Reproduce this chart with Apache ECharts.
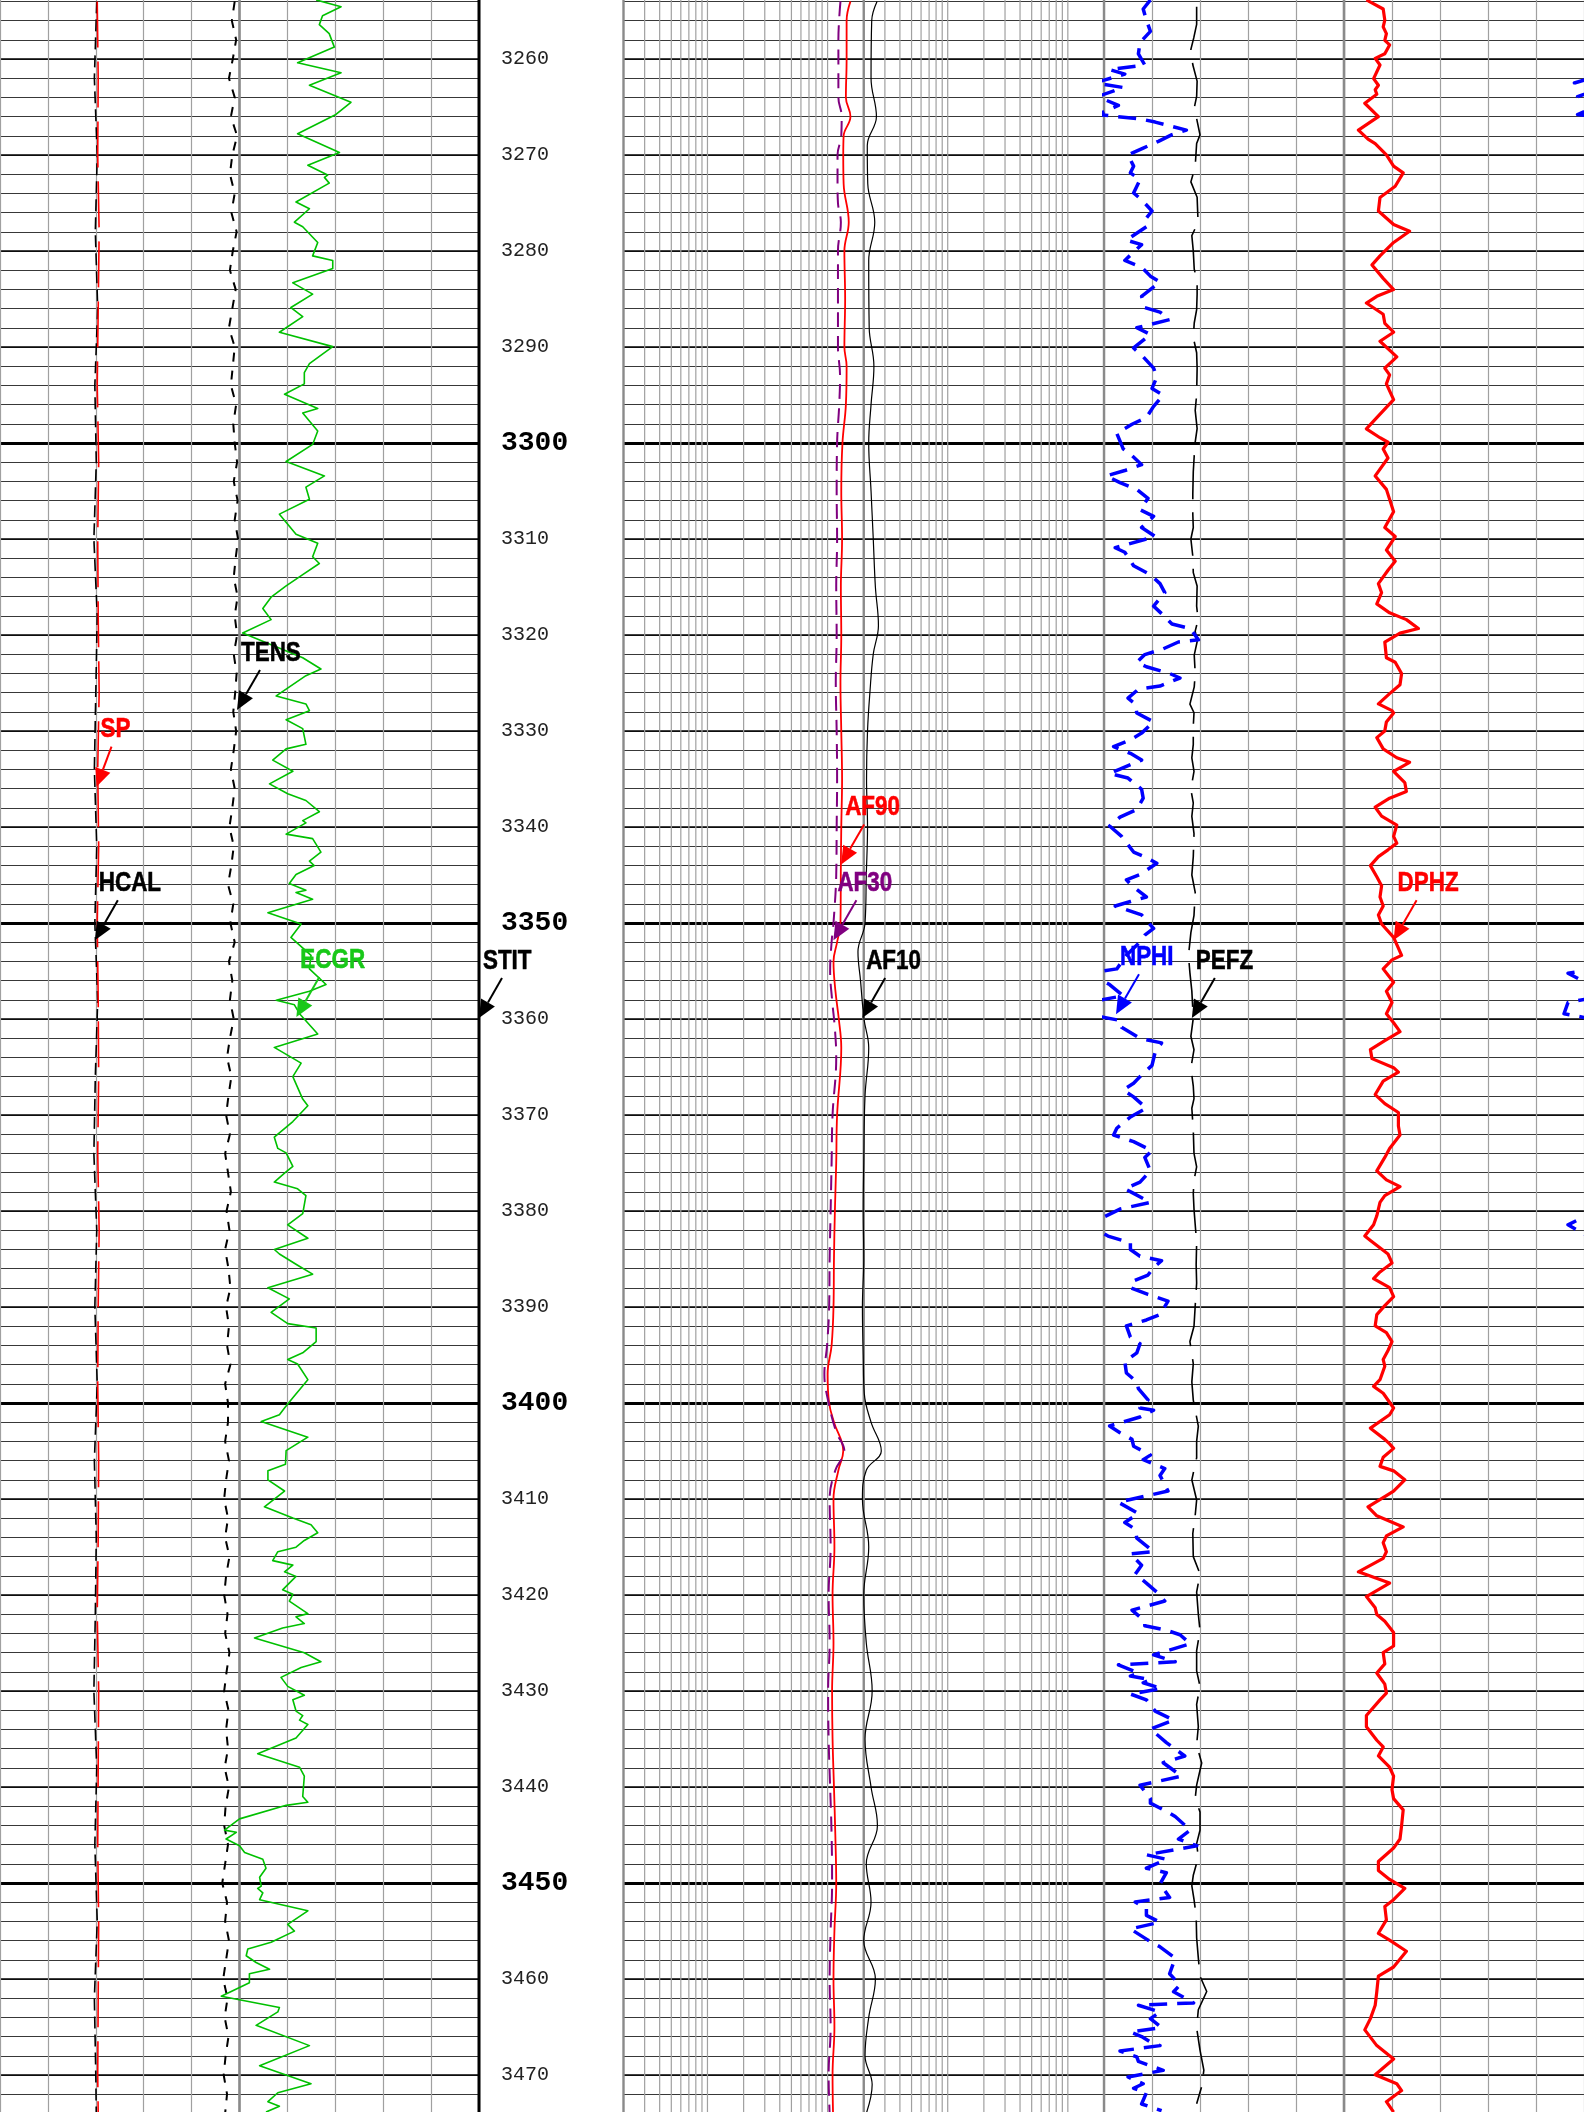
<!DOCTYPE html>
<html><head><meta charset="utf-8">
<script src="https://cdn.jsdelivr.net/npm/echarts@6/dist/echarts.min.js"></script>
<style>html,body{margin:0;padding:0;background:#fff}#c{width:1584px;height:2112px}</style>
</head><body><div id="c"></div>
<script>
// ---------- DATA (depth in ft, value in curve units) ----------
const ECGR = [[3253.85,99.0],[3254.55,106.8],[3255.49,101.0],[3256.42,100.0],[3257.36,103.1],[3258.76,104.7],[3260.40,93.2],[3261.43,106.8],[3262.74,96.9],[3264.51,109.9],[3265.78,105.2],[3267.79,93.2],[3269.75,106.3],[3271.06,96.4],[3272.09,102.6],[3272.33,101.6],[3272.93,103.1],[3274.90,92.7],[3275.60,96.9],[3277.00,92.2],[3277.47,94.8],[3279.11,99.5],[3280.51,97.9],[3280.98,104.2],[3281.82,104.2],[3283.32,91.7],[3284.49,97.9],[3285.89,91.1],[3286.83,94.8],[3288.46,87.5],[3289.96,104.2],[3291.74,96.9],[3292.67,95.3],[3293.84,95.3],[3294.92,89.1],[3296.41,99.5],[3296.88,94.8],[3298.75,99.5],[3300.15,97.9],[3301.93,89.6],[3303.43,101.6],[3304.60,95.8],[3305.86,96.9],[3307.41,87.5],[3309.51,92.7],[3310.45,99.5],[3311.85,97.9],[3312.55,100.0],[3313.72,94.8],[3314.89,89.6],[3316.06,84.9],[3317.23,82.3],[3318.40,84.9],[3319.80,76.0],[3322.37,94.8],[3323.54,100.5],[3324.24,95.8],[3326.35,86.5],
[3327.18,95.8],[3327.88,96.9],[3328.82,89.6],[3329.75,94.8],[3331.39,95.8],[3331.86,89.6],[3333.03,85.4],[3334.20,91.7],[3335.51,84.4],[3336.53,90.1],[3337.24,95.8],[3338.41,100.0],[3339.34,94.8],[3339.57,95.8],[3340.74,89.6],[3341.21,97.9],[3342.62,100.5],[3343.55,96.9],[3344.02,98.4],[3344.95,92.7],[3345.89,90.6],[3346.59,95.8],[3346.82,92.7],[3347.53,97.9],[3348.93,83.9],[3350.10,94.3],[3351.50,91.1],[3353.37,97.4],[3354.78,96.9],[3356.41,102.1],[3357.11,96.9],[3358.05,86.5],[3358.52,92.2],[3359.45,93.8],[3361.56,99.5],[3362.96,85.9],[3364.60,94.3],[3366.00,91.7],[3368.34,94.8],[3369.04,96.4],[3370.68,91.7],[3372.31,85.9],[3373.48,87.0],[3373.95,89.6],[3375.36,91.7],[3376.06,89.1],[3376.99,85.9],[3377.69,93.2],[3378.40,95.8],[3380.27,94.8],[3381.44,90.1],[3382.84,96.4],[3384.01,85.9],[3384.48,87.5],[3385.65,93.2],[3386.58,97.9],[3387.99,83.9],[3389.15,90.6],[3390.56,84.9],[3391.73,90.1],[3392.19,99.0],[3393.60,99.0],[3394.77,94.8],[3395.47,90.1],[3395.94,93.2],[3397.57,96.4],[3399.45,91.7],
[3400.52,89.1],[3401.22,87.5],[3401.92,81.8],[3403.56,96.4],[3404.96,89.6],[3406.37,89.4],[3407.07,83.9],[3408.00,83.9],[3409.17,89.1],[3410.81,82.8],[3411.98,91.7],[3412.68,97.4],[3413.52,99.5],[3414.32,95.3],[3415.02,92.7],[3415.49,87.0],[3416.42,85.4],[3416.89,91.7],[3417.59,89.1],[3418.06,92.7],[3419.46,88.5],[3419.93,91.7],[3420.63,90.6],[3421.94,96.4],[3422.27,92.7],[3422.97,95.3],[3423.44,88.5],[3424.47,79.7],[3426.01,95.3],[3426.95,100.5],[3427.55,94.3],[3428.58,88.0],[3429.52,90.1],[3430.45,95.3],[3430.92,91.7],[3432.09,92.7],[3432.56,94.8],[3433.03,93.8],[3433.49,96.4],[3434.90,92.7],[3436.54,80.7],[3437.94,93.8],[3438.87,95.3],[3440.98,94.8],[3441.59,96.4],[3441.91,89.6],[3443.32,75.0],[3444.49,70.3],[3444.72,74.0],[3445.42,70.8],[3446.12,75.0],[3446.83,76.6],[3447.53,82.3],[3448.46,83.3],[3449.40,81.3],[3450.33,81.8],[3450.57,80.7],[3451.03,82.3],[3451.74,81.3],[3452.90,96.4],[3454.31,90.1],[3455.01,92.2],[3456.18,84.9],[3456.88,77.6],[3457.58,77.1],[3458.28,80.2],[3458.99,84.4],[3459.45,78.1],[3460.39,78.1],[3461.79,69.3],[3462.96,87.5],[3463.43,87.0],[3464.83,80.2],[3466.94,96.9],[3469.04,81.3],[3470.91,97.4],[3471.85,87.0],[3472.78,83.9],[3473.25,87.5],[3473.86,83.3]];

const TENS_DEPTH = [3254,3256,3258,3260,3262,3264,3266,3268,3270,3272,3274,3276,3278,3280,3282,3284,3286,3288,3290,3292,3294,3296,3298,3300,3302,3304,3306,3308,3310,3312,3314,3316,3318,3320,3322,3324,3326,3328,3330,3332,3334,3336,3338,3340,3342,3344,3346,3348,3350,3352,3354,3356,3358,3360,3362,3364,3366,3368,3370,3372,3374,3376,3378,3380,3382,3384,3386,3388,3390,3392,3394,3396,3398,3400,3402,3404,3406,3408,3410,3412,3414,3416,3418,3420,3422,3424,3426,3428,3430,3432,3434,3436,3438,3440,3442,3444,3446,3448,3450,3452,3454,3456,3458,3460,3462,3464,3466,3468,3470,3472,3474];
const TENS = [4900,4840,4930,4860,4780,4900,4820,4950,4850,4800,4900,4830,4940,4860,4800,4920,4850,4780,4900,4860,4820,4930,4870,4900,
4950,4880,4960,4900,4970,4920,4880,4960,4900,4950,4880,4940,4910,4870,4930,
4880,4820,4900,4850,4790,4880,4830,4760,4870,4810,4900,4780,4850,4800,4880,
4800,4740,4830,4770,4720,4800,4700,4760,4820,4730,4790,4700,4770,4810,4720,4780,4740,4810,4700,4760,
4760,4700,4780,4720,4680,4760,4700,4790,4720,4680,4750,4700,4790,4730,4680,4770,4720,4760,4690,4780,4710,4680,4760,4700,4640,4740,4700,4780,4720,4660,4750,4690,4770,4710,4670,4740,4700];

const SLOW_DEPTH = [3254,3262,3270,3278,3286,3294,3302,3310,3318,3326,3334,3342,3350,3358,3366,3374,3382,3390,3398,3406,3414,3422,3430,3438,3446,3454,3462,3470,3474];
const HCAL = [8.02,7.97,8.03,7.99,8.04,7.98,8.01,7.96,8.03,8.00,7.97,8.02,7.98,8.04,7.99,7.96,8.02,7.98,8.03,7.97,8.01,7.99,7.96,8.02,7.98,8.03,7.97,8.00,8.01];
const SP = [-59.7,-59.5,-59.6,-59.3,-59.5,-59.7,-59.4,-59.6,-59.5,-59.3,-59.6,-59.4,-59.7,-59.5,-59.4,-59.6,-59.3,-59.5,-59.6,-59.4,-59.5,-59.7,-59.4,-59.5,-59.6,-59.4,-59.5,-59.6,-59.5];

const AF90 = [[3254,15.5],[3256,14.4],[3260,14.4],[3264,14.2],[3266,15.5],[3268,13.6],[3270,13.5],[3273,13.6],[3277,15.0],[3280,13.8],[3285,14.0],[3290,13.8],[3292,14.4],[3296,14.2],[3300,13.3],[3305,13.0],[3310,13.2],[3315,12.9],[3320,13.0],[3325,12.8],[3330,13.0],[3335,13.2],[3340,13.0],[3344,12.9],[3350,12.8],[3352,12.0],[3354,11.2],[3357,11.6],[3360,12.4],[3363,13.0],[3370,12.0],[3375,11.8],[3380,11.5],[3385,11.3],[3390,11.2],[3394,10.8],[3397,10.0],[3400,10.3],[3402,11.3],[3405,13.5],[3407,12.3],[3410,11.2],[3415,11.4],[3420,11.0],[3425,11.2],[3430,10.9],[3435,11.0],[3440,11.3],[3445,11.6],[3450,11.8],[3455,11.4],[3460,11.2],[3465,11.4],[3470,11.0],[3474,11.1]];
const AF30 = [[3254,12.8],[3258,12.3],[3264,12.3],[3266,13.1],[3268,13.0],[3270,12.1],[3273,12.1],[3275,12.2],[3277,12.9],[3280,12.2],[3285,12.2],[3290,12.2],[3293,12.7],[3296,12.5],[3300,12.0],[3305,11.9],[3310,12.0],[3315,11.8],[3320,11.9],[3325,11.7],[3330,11.9],[3335,12.0],[3340,11.9],[3345,11.8],[3350,11.2],[3352,10.8],[3355,10.5],[3358,10.9],[3361,11.5],[3364,11.8],[3370,11.0],[3375,10.8],[3380,10.6],[3385,10.4],[3390,10.3],[3394,9.9],[3397,9.4],[3400,10.2],[3403,11.8],[3405,13.8],[3407,11.6],[3410,10.4],[3415,10.6],[3420,10.2],[3425,10.4],[3430,10.1],[3435,10.2],[3440,10.5],[3445,10.8],[3450,10.9],[3455,10.6],[3460,10.4],[3465,10.6],[3470,10.2],[3474,10.4]];
const AF10 = [[3254,25.8],[3256,23.3],[3262,23.0],[3266,25.5],[3269,21.4],[3273,21.6],[3277,24.7],[3281,22.0],[3288,22.2],[3292,24.3],[3296,23.0],[3300,22.0],[3305,23.0],[3310,24.0],[3315,25.0],[3319,26.5],[3322,24.0],[3326,22.5],[3330,21.5],[3335,21.1],[3340,21.5],[3345,21.0],[3350,20.5],[3353,17.9],[3356,18.8],[3360,20.1],[3363,22.0],[3368,20.5],[3375,20.0],[3380,19.8],[3385,20.0],[3390,19.5],[3395,19.8],[3399,20.2],[3402,23.0],[3405,28.0],[3407,21.0],[3410,19.5],[3415,22.0],[3420,20.0],[3425,21.0],[3430,23.5],[3435,20.5],[3440,23.0],[3444,26.0],[3448,21.0],[3452,23.0],[3456,20.0],[3460,25.0],[3464,22.0],[3468,20.5],[3471,23.5],[3474,21.0]];

const NPHI = [[3253.85,0.392],[3254.79,0.401],[3255.95,0.397],[3257.12,0.392],[3258.29,0.405],[3259.46,0.407],[3260.63,0.399],[3261.10,0.443],[3261.57,0.424],[3262.50,0.462],[3262.97,0.426],[3263.91,0.458],[3264.84,0.432],[3265.78,0.458],[3266.24,0.405],[3266.57,0.386],[3267.41,0.347],[3267.88,0.365],[3268.58,0.382],[3269.28,0.401],[3269.99,0.420],[3271.16,0.413],[3271.86,0.417],[3272.56,0.405],[3273.96,0.413],[3274.66,0.403],[3275.83,0.390],[3276.77,0.399],[3277.47,0.397],[3278.87,0.422],[3279.34,0.403],[3280.98,0.424],[3281.68,0.403],[3282.62,0.392],[3283.22,0.380],[3284.72,0.403],[3285.89,0.399],[3286.36,0.380],[3287.15,0.368],[3287.99,0.409],[3288.70,0.392],[3290.10,0.413],[3291.03,0.401],[3292.20,0.388],[3293.14,0.384],[3294.31,0.390],[3295.01,0.376],[3296.18,0.388],[3297.35,0.397],[3298.05,0.415],[3298.99,0.434],[3300.62,0.426],[3301.32,0.415],[3302.26,0.403],[3302.87,0.424],[3303.43,0.447],[3304.13,0.430],[3304.83,0.409],[3305.77,0.395],[3306.94,0.405],[3307.64,0.388],[3308.81,0.403],[3309.74,0.386],[3310.91,0.436],[3311.38,0.424],[3312.78,0.413],[3313.72,0.392],[3314.65,0.380],[3315.59,0.374],[3316.99,0.388],[3317.93,0.376],[3318.86,0.365],[3319.33,0.342],[3320.50,0.332],[3320.73,0.357],[3321.44,0.376],[3322.04,0.399],[3322.84,0.409],[3323.31,0.397],[3324.01,0.368],[3324.48,0.355],[3325.32,0.380],[3325.65,0.407],[3326.58,0.420],
[3327.18,0.411],[3328.12,0.409],[3329.05,0.388],[3330.22,0.403],[3330.92,0.417],[3331.62,0.438],[3332.33,0.417],[3333.03,0.403],[3333.96,0.430],[3334.43,0.443],[3334.90,0.420],[3336.07,0.403],[3337.00,0.401],[3338.17,0.409],[3338.97,0.430],[3339.90,0.443],[3340.98,0.428],[3342.61,0.413],[3343.18,0.397],[3343.78,0.384],[3344.95,0.405],[3345.51,0.422],[3346.12,0.415],[3347.29,0.397],[3347.76,0.417],[3348.23,0.436],[3349.16,0.403],[3350.57,0.388],[3351.27,0.399],[3351.97,0.405],[3353.37,0.422],[3354.78,0.434],[3355.24,0.470],[3356.41,0.443],[3357.58,0.426],[3358.28,0.470],[3359.45,0.475],[3360.15,0.430],[3360.86,0.428],[3362.02,0.405],[3362.49,0.378],[3363.43,0.386],[3364.83,0.390],[3366.00,0.405],[3366.70,0.413],[3367.40,0.426],[3368.11,0.413],[3369.28,0.397],[3370.21,0.417],[3371.38,0.434],[3372.08,0.438],[3372.78,0.413],[3373.72,0.390],[3374.42,0.399],[3375.82,0.392],[3376.99,0.405],[3377.69,0.424],[3378.16,0.413],[3379.10,0.392],[3379.80,0.430],[3381.44,0.470],[3382.61,0.445],[3383.31,0.417],[3384.01,0.417],[3384.71,0.405],[3385.18,0.378],[3385.88,0.388],[3386.67,0.395],[3387.28,0.413],[3387.99,0.417],[3388.69,0.395],[3389.39,0.370],[3390.79,0.380],[3391.35,0.397],[3391.96,0.422],[3393.13,0.417],[3393.83,0.405],[3394.77,0.409],[3395.70,0.424],[3396.87,0.422],[3397.81,0.409],[3398.51,0.407],[3399.68,0.395],
[3400.52,0.405],[3400.75,0.388],[3401.46,0.405],[3402.39,0.443],[3403.09,0.430],[3403.79,0.415],[3404.50,0.413],[3405.43,0.392],[3405.90,0.401],[3406.83,0.374],[3407.54,0.380],[3409.17,0.370],[3410.34,0.432],[3411.51,0.407],[3412.45,0.424],[3413.15,0.411],[3414.08,0.409],[3415.49,0.388],[3415.72,0.417],[3416.89,0.403],[3417.83,0.411],[3418.76,0.397],[3419.70,0.384],[3420.63,0.374],[3421.57,0.415],[3422.74,0.399],[3423.20,0.399],[3423.67,0.372],[3424.14,0.355],[3425.08,0.342],[3426.24,0.388],[3426.95,0.361],[3427.27,0.432],[3428.12,0.407],[3428.44,0.417],[3428.82,0.392],[3429.14,0.401],[3429.75,0.378],[3430.31,0.417],[3430.92,0.397],[3432.09,0.386],[3433.03,0.363],[3433.96,0.392],[3434.66,0.382],[3435.37,0.372],[3436.77,0.349],[3437.47,0.376],[3438.87,0.353],[3439.81,0.405],[3441.21,0.392],[3441.68,0.392],[3442.62,0.370],[3443.08,0.361],[3444.49,0.342],[3445.42,0.357],[3446.12,0.334],[3447.06,0.397],[3447.53,0.372],[3448.46,0.397],[3448.93,0.372],[3450.10,0.380],[3451.50,0.368],[3451.97,0.411],[3452.67,0.397],[3453.37,0.397],[3454.08,0.380],[3454.78,0.417],[3455.95,0.395],[3456.65,0.380],[3457.82,0.361],[3459.45,0.368],[3460.62,0.355],[3461.32,0.363],[3462.49,0.338],[3462.73,0.407],[3463.43,0.380],[3464.13,0.392],[3465.07,0.378],[3465.53,0.417],[3466.00,0.403],[3466.56,0.392],[3466.94,0.380],[3467.50,0.430],[3468.11,0.409],[3468.58,0.407],[3469.51,0.376],[3470.21,0.420],[3470.91,0.401],[3471.38,0.413],[3471.85,0.397],[3473.02,0.403],[3473.72,0.378]];

const DPHZ = [[3253.85,0.122],[3254.79,0.101],[3255.95,0.099],[3256.66,0.101],[3257.36,0.097],[3258.06,0.099],[3258.53,0.093],[3259.46,0.099],[3259.93,0.111],[3260.63,0.105],[3262.04,0.113],[3262.74,0.107],[3263.20,0.111],[3263.67,0.109],[3264.61,0.124],[3266.01,0.107],[3267.41,0.132],[3268.35,0.120],[3268.82,0.111],[3269.99,0.097],[3271.16,0.088],[3271.86,0.076],[3273.26,0.086],[3274.43,0.105],[3275.83,0.107],[3277.24,0.088],[3277.94,0.068],[3279.11,0.088],[3280.51,0.105],[3281.45,0.115],[3282.85,0.101],[3284.02,0.088],[3284.72,0.109],[3285.42,0.122],[3286.59,0.101],[3287.53,0.099],[3288.46,0.088],[3289.40,0.105],[3291.03,0.084],[3292.20,0.099],[3292.91,0.093],[3293.84,0.097],[3295.48,0.088],[3297.35,0.109],[3298.52,0.122],[3299.45,0.105],[3299.92,0.095],[3300.62,0.101],[3301.56,0.095],[3303.43,0.111],[3304.83,0.097],[3307.17,0.088],[3308.81,0.099],[3309.74,0.086],[3311.15,0.097],[3312.32,0.086],[3313.25,0.095],[3314.65,0.107],[3315.59,0.103],[3316.76,0.109],[3317.69,0.093],[3318.40,0.072],[3319.33,0.057],[3319.80,0.080],[3320.73,0.099],[3322.37,0.097],[3322.84,0.086],[3324.01,0.078],[3325.18,0.080],[3326.11,0.093],
[3327.18,0.107],[3327.88,0.090],[3328.12,0.088],[3329.05,0.097],[3329.99,0.099],[3330.69,0.109],[3331.86,0.101],[3332.79,0.084],[3333.26,0.068],[3334.20,0.088],[3335.37,0.074],[3336.30,0.072],[3337.00,0.093],[3337.94,0.111],[3338.87,0.103],[3339.81,0.084],[3340.98,0.088],[3341.68,0.084],[3342.38,0.095],[3343.08,0.107],[3344.02,0.117],[3345.19,0.109],[3346.12,0.103],[3347.29,0.105],[3348.23,0.101],[3349.16,0.107],[3350.10,0.103],[3351.50,0.088],[3353.37,0.078],[3353.84,0.090],[3354.78,0.101],[3356.18,0.088],[3357.11,0.097],[3358.28,0.090],[3359.45,0.097],[3360.39,0.088],[3361.32,0.080],[3362.26,0.099],[3363.19,0.117],[3364.13,0.115],[3365.07,0.088],[3365.53,0.082],[3366.47,0.101],[3367.87,0.111],[3368.81,0.099],[3369.74,0.082],[3371.15,0.082],[3372.08,0.080],[3373.48,0.093],[3374.42,0.099],[3375.82,0.109],[3376.76,0.097],[3377.46,0.080],[3378.40,0.099],[3379.10,0.105],[3380.50,0.109],[3381.44,0.113],[3382.61,0.124],[3383.07,0.117],[3384.48,0.095],[3385.41,0.090],[3386.35,0.105],[3387.05,0.113],[3387.99,0.093],[3388.92,0.088],[3389.86,0.099],[3390.79,0.109],[3391.96,0.111],[3392.66,0.097],[3393.60,0.090],[3394.53,0.095],[3395.47,0.101],[3396.17,0.099],[3397.57,0.105],[3398.27,0.113],[3398.98,0.101],
[3400.52,0.088],[3401.22,0.093],[3402.62,0.117],[3403.79,0.099],[3404.26,0.093],[3404.73,0.088],[3405.66,0.101],[3406.60,0.105],[3407.07,0.088],[3408.00,0.074],[3409.17,0.088],[3409.64,0.097],[3410.81,0.120],[3411.75,0.109],[3412.91,0.076],[3413.85,0.097],[3414.55,0.101],[3415.49,0.097],[3416.19,0.101],[3417.59,0.132],[3418.76,0.093],[3420.16,0.122],[3421.33,0.111],[3422.04,0.109],[3422.74,0.099],[3423.91,0.088],[3425.31,0.088],[3426.01,0.101],[3427.18,0.099],[3428.12,0.109],[3429.29,0.099],[3430.22,0.097],[3430.92,0.105],[3432.56,0.122],[3433.73,0.122],[3435.13,0.109],[3435.83,0.101],[3436.77,0.107],[3437.94,0.093],[3438.87,0.088],[3440.28,0.090],[3441.21,0.088],[3442.38,0.076],[3444.02,0.078],[3445.42,0.080],[3446.36,0.088],[3447.76,0.107],[3448.70,0.107],[3449.63,0.093],[3450.57,0.074],[3451.74,0.088],[3452.44,0.099],[3453.84,0.097],[3455.24,0.107],[3455.95,0.093],[3457.11,0.072],[3458.75,0.088],[3459.69,0.107],[3461.32,0.109],[3462.73,0.111],[3464.13,0.117],[3465.30,0.124],[3466.94,0.109],[3468.34,0.088],[3469.98,0.111],[3470.91,0.084],[3471.62,0.078],[3472.78,0.097],[3473.86,0.088]];

const PEFZ = [[3254.55,1.93],[3256.4,1.93],[3257.8,1.87],[3259.0,1.81],[3260.6,1.85],[3262.3,1.94],[3263.9,1.93],[3265.1,1.88],[3266.2,1.93],[3267.9,2.0],[3268.8,1.93],[3271.2,1.90],[3272.8,1.81],[3274.4,1.94],[3277.0,1.96],[3278.4,1.83],[3280.0,1.86],[3281.9,1.88],[3283.1,1.94],[3284.5,1.94],[3286.1,1.93],[3287.5,1.88],[3289.0,1.86],[3290.6,1.93],[3292.2,1.94],[3295.0,1.93],[3296.6,1.90],[3298.5,1.94],[3299.9,1.90],[3301.3,1.88],[3303.0,1.86],[3305.3,1.85],[3307.4,1.85],[3308.8,1.86],[3310.0,1.81],[3311.8,1.85],[3313.5,1.86],[3314.9,1.94],[3317.0,1.93],[3318.4,1.96],[3319.6,1.90],[3320.7,1.94],[3322.1,1.88],[3324.0,1.90],[3325.4,1.88],
[3327.2,1.79],[3328.1,1.875],[3329.5,1.86],[3331.4,1.86],[3332.8,1.83],[3334.2,1.875],[3336.1,1.81],[3337.5,1.86],[3338.9,1.83],[3340.7,1.875],[3343.1,1.86],[3345.0,1.83],[3346.8,1.90],[3349.2,1.875],[3351.0,1.81],[3353.4,1.76],[3355.2,1.79],[3357.1,1.83],[3359.9,1.86],[3361.8,1.81],[3363.2,1.875],[3365.1,1.81],[3367.0,1.86],[3368.3,1.875],[3369.3,1.83],[3371.6,1.86],[3374.0,1.875],[3375.4,1.93],[3376.8,1.875],[3378.2,1.86],[3379.8,1.875],[3381.4,1.90],[3383.3,1.93],[3385.6,1.92],[3387.5,1.93],[3389.9,1.90],[3392.0,1.875],[3393.6,1.79],[3395.9,1.86],[3397.8,1.83],[3399.7,1.86],
[3402.4,1.965],[3404.0,1.93],[3405.7,1.93],[3408.0,1.83],[3410.1,1.93],[3411.7,1.90],[3413.6,1.85],[3416.0,1.86],[3417.8,2.0],[3419.7,1.93],[3422.0,1.965],[3423.7,2.0],[3425.8,1.93],[3427.9,1.93],[3429.5,2.0],[3431.4,1.93],[3433.7,1.965],[3435.6,1.93],[3437.5,2.035],[3439.8,1.93],[3441.2,1.90],[3442.6,2.0],[3444.5,2.0],[3445.9,1.93],[3447.3,1.965],[3449.2,1.86],[3450.3,1.83],[3451.7,1.875],[3453.4,1.92],[3455.7,1.93],[3457.8,1.965],[3459.7,2.0],[3461.3,2.14],[3463.2,1.965],[3465.1,1.93],[3467.4,2.0],[3469.5,2.08],[3471.2,2.035],[3473.0,1.93]];

// log-grid values of the resistivity track (ohm.m)
const RES_GRID = [0.2,0.3,0.4,0.5,0.6,0.7,0.8,0.9,1,2,3,4,5,6,7,8,9,10,20,30,40,50,60,70,80,90,100,200,300,400,500,600,700,800,900,1000,2000];

// curve-name annotations: name, anchor depth, anchor value (in the curve's units)
const LABEL_NAMES  = ['SP','TENS','HCAL','ECGR','STIT','AF90','AF30','AF10','NPHI','PEFZ','DPHZ'];
const LABEL_DEPTHS = [3335.8,3327.8,3351.8,3359.8,3359.9,3343.9,3351.8,3359.9,3359.5,3359.9,3351.8];
const LABEL_VALUES = [-59.85,4948,7.98,92.8,150,12.97,11.18,19.4,0.435,1.83,0.088];

// ---------- CHART ----------
const LABEL_AXIS  = {SP:1,TENS:3,HCAL:2,ECGR:0,STIT:0,AF90:5,AF30:5,AF10:5,NPHI:6,PEFZ:7,DPHZ:6};
const LABEL_GRIDY = {SP:0,TENS:0,HCAL:0,ECGR:0,STIT:0,AF90:4,AF30:4,AF10:4,NPHI:7,PEFZ:7,DPHZ:7};
const LABEL_COLOR = {SP:'#ff0000',TENS:'#000',HCAL:'#000',ECGR:'#18c818',STIT:'#000',AF90:'#ff0000',AF30:'#800080',AF10:'#000',NPHI:'#0000ff',PEFZ:'#000',DPHZ:'#ff0000'};
const LABEL_LEAN  = {SP:15};

const TOP = -37, H = 2208;
const grids = [
  {left:0, top:TOP, width:479, height:H},
  {left:501, top:TOP, width:100, height:H},
  {left:623.5, top:TOP, width:480.5, height:H},
  {left:1104, top:TOP, width:480, height:H}
].map(g => Object.assign({containLabel:false, outerBoundsMode:'none', show:false}, g));

const hidden = {axisLine:{show:false}, axisTick:{show:false}, axisLabel:{show:false}};
function depthAxes(gi){
  const base = Object.assign({gridIndex:gi, type:'value', min:3250, max:3480, inverse:true}, hidden);
  return [
    Object.assign({}, base, {interval:2, splitLine:{show:true, lineStyle:{color:'#383838', width:1}}}),
    Object.assign({}, base, {interval:10, splitLine:{show:true, lineStyle:{color:'#000', width:1.7}}}),
    Object.assign({}, base, {interval:50, splitLine:{show:true, lineStyle:{color:'#000', width:2.8}}})
  ];
}
const yAxis = [
  ...depthAxes(0),
  Object.assign({gridIndex:1, type:'value', min:3250, max:3480, interval:10, inverse:true, position:'left',
    axisLine:{show:false}, axisTick:{show:false}, splitLine:{show:false},
    axisLabel:{show:true, inside:true, margin:0,
      formatter: v => (v % 50 === 0 ? '{b|' + v + '}' : '{n|' + v + '}'),
      rich:{ n:{fontFamily:'Liberation Mono', fontSize:20, color:'#222'},
             b:{fontFamily:'Liberation Mono', fontSize:28, fontWeight:'bold', color:'#000'} } } }),
  ...depthAxes(2),
  ...depthAxes(3)
];
const vgrid = {show:true, lineStyle:{color:'#a0a0a0', width:1.2}};
const xAxis = [
  Object.assign({gridIndex:0, type:'value', min:0, max:150, interval:15, splitLine:vgrid}, hidden),        // 0 ECGR
  Object.assign({gridIndex:0, type:'value', min:-80, max:20, splitLine:{show:false}}, hidden),           // 1 SP
  Object.assign({gridIndex:0, type:'value', min:6, max:16, splitLine:{show:false}}, hidden),             // 2 HCAL
  Object.assign({gridIndex:0, type:'value', min:0, max:10000, splitLine:{show:false}}, hidden),          // 3 TENS
  Object.assign({gridIndex:1, type:'value', min:0, max:1, splitLine:{show:false}}, hidden),              // 4 dummy
  Object.assign({gridIndex:2, type:'log', logBase:10, min:0.2, max:2000, splitLine:{show:false}}, hidden), // 5 RES
  Object.assign({gridIndex:3, type:'value', min:-0.15, max:0.45, inverse:true, splitLine:{show:false}}, hidden), // 6 POR
  Object.assign({gridIndex:3, type:'value', min:0, max:10, interval:1, splitLine:vgrid}, hidden)          // 7 PEF
];

function vlines(xi, yi, values, styleFn){
  return {type:'custom', xAxisIndex:xi, yAxisIndex:yi, z:1, silent:true, clip:false,
    data: values.map(v => [v, 3300]), encode:{x:0, y:1},
    renderItem:(params, api) => {
      const cs = params.coordSys;
      const x = api.coord([api.value(0), 3300])[0];
      const st = styleFn(api.value(0));
      return {type:'line', shape:{x1:x, y1:cs.y, x2:x, y2:cs.y + cs.height}, style:{stroke:st[0], lineWidth:st[1]}};
    }};
}
function curve(name, xi, yi, pairs, color, width, dash, smooth){
  return {name, type:'line', xAxisIndex:xi, yAxisIndex:yi, z:3, showSymbol:false, symbol:'none',
    silent:true, clip:true, animation:false, smooth: smooth || false,
    data: pairs.map(p => [p[1], p[0]]),
    lineStyle:{color, width, type: dash || 'solid', cap:'butt', join:'round'}};
}
const pair = (d, v) => d.map((x, i) => [x, v[i]]);

const series = [
  vlines(0, 0, [75, 150], v => v === 150 ? ['#000', 3] : ['#8a8a8a', 2.6]),
  vlines(5, 4, RES_GRID, v => (v === 0.2 || v === 20 || v === 2000) ? ['#8a8a8a', 2.4] : ['#a0a0a0', 1.2]),
  vlines(7, 7, [5], v => ['#8a8a8a', 2.6]),
  curve('HCAL', 2, 0, pair(SLOW_DEPTH, HCAL), '#000', 1.6, [12, 6]),
  curve('SP', 1, 0, pair(SLOW_DEPTH, SP), '#ff0000', 1.6, [46, 14]),
  curve('TENS', 3, 0, pair(TENS_DEPTH, TENS), '#000', 2, [9, 9]),
  curve('ECGR', 0, 0, ECGR, '#00c000', 1.6),
  curve('AF10', 5, 4, AF10, '#000', 1.2, null, 0.4),
  curve('AF90', 5, 4, AF90, '#ff0000', 1.8, null, 0.4),
  curve('AF30', 5, 4, AF30, '#800080', 2, [15, 9], 0.4),
  curve('PEFZ', 7, 7, PEFZ, '#000', 1.6, [44, 13]),
  curve('NPHI', 6, 7, NPHI, '#0000ff', 3.5, [18, 10]),
  curve('NPHI wrap', 6, 7, NPHI.map(p => [p[0], p[1] - 0.6]), '#0000ff', 3.5, [18, 10]),
  curve('DPHZ', 6, 7, DPHZ, '#ff0000', 3.2)
];

LABEL_NAMES.forEach((name, i) => {
  const col = LABEL_COLOR[name];
  const lean = LABEL_LEAN[name] || 23;
  series.push({
    type:'custom', xAxisIndex:LABEL_AXIS[name], yAxisIndex:LABEL_GRIDY[name], z:10, silent:true, clip:false,
    data:[[LABEL_VALUES[i], LABEL_DEPTHS[i]]], encode:{x:0, y:1},
    renderItem:(params, api) => {
      const p = api.coord([api.value(0), api.value(1)]);
      const dx = lean, dy = -40, len = Math.sqrt(dx*dx + dy*dy);
      const ux = dx/len, uy = dy/len, L = 18, w = 8;
      const bx = p[0] + ux*L, by = p[1] + uy*L;
      const nx = -uy, ny = ux;
      return {type:'group', children:[
        {type:'line', shape:{x1:p[0]+dx, y1:p[1]+dy, x2:bx, y2:by}, style:{stroke:col, lineWidth:2}},
        {type:'polygon', shape:{points:[[p[0], p[1]], [bx + nx*w, by + ny*w], [bx - nx*w, by - ny*w]]}, style:{fill:col}},
        {type:'text', x:p[0] + 4, y:p[1] - 57, scaleX:0.8,
          style:{text:name, font:'bold 28px "Liberation Sans"', fill:col, stroke:col, lineWidth:0.6,
                 align:'left', verticalAlign:'middle', textAlign:'left', textVerticalAlign:'middle'}}
      ]};
    }
  });
});

const chart = echarts.init(document.getElementById('c'), null, {renderer:'canvas', width:1584, height:2112});
chart.setOption({animation:false, backgroundColor:'#fff', grid:grids, xAxis, yAxis, series});
</script></body></html>
